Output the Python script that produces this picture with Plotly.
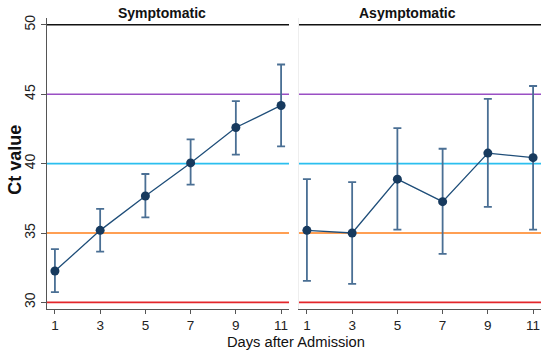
import plotly.graph_objects as go
from plotly.subplots import make_subplots

days = [1, 3, 5, 7, 9, 11]
sym_mean = [32.26, 35.19, 37.67, 40.05, 42.60, 44.19]
sym_upper = [33.84, 36.74, 39.25, 41.74, 44.50, 47.14]
sym_lower = [30.74, 33.66, 36.12, 38.48, 40.64, 41.24]
asym_mean = [35.19, 35.00, 38.88, 37.26, 40.76, 40.43]
asym_upper = [38.88, 38.67, 42.55, 41.07, 44.66, 45.59]
asym_lower = [31.55, 31.33, 35.24, 33.50, 36.88, 35.24]
thresholds = [30, 35, 40, 45, 50]
threshold_colors = ["#e3262b", "#ff7f1a", "#2bbfef", "#9a4fc4", "#111111"]
panel_titles = ["Symptomatic", "Asymptomatic"]
y_ticks = [30, 35, 40, 45, 50]

fig = make_subplots(rows=1, cols=2, shared_yaxes=True)

W, H = 550, 352
dom1 = [47 / W, 289 / W]
dom2 = [299 / W, 541 / W]
ydom = [1 - 308.7 / H, 1 - 15 / H]

for col, (m, up, lo) in enumerate([(sym_mean, sym_upper, sym_lower),
                                    (asym_mean, asym_upper, asym_lower)], start=1):
    for t, c in zip(thresholds, threshold_colors):
        fig.add_shape(type="line", xref=f"x{'' if col == 1 else col} domain",
                      yref=f"y{'' if col == 1 else col}", x0=0, x1=1, y0=t, y1=t,
                      line=dict(color=c, width=1.6), layer="below")
    fig.add_trace(go.Scatter(
        x=days, y=m, mode="lines+markers",
        line=dict(color="#1f4e79", width=1.3),
        marker=dict(color="#173a5e", size=9),
        error_y=dict(type="data", symmetric=False,
                     array=[u - v for u, v in zip(up, m)],
                     arrayminus=[v - l for v, l in zip(m, lo)],
                     color="#4a6f94", thickness=1.8, width=4),
        showlegend=False), row=1, col=col)

axis_common = dict(showgrid=False, zeroline=False, range=[0.65, 11.35],
                   tickvals=days, ticks="outside", ticklen=4, tickcolor="#555",
                   showline=True, linecolor="#555", linewidth=1.3,
                   tickfont=dict(family="Arial, Liberation Sans", size=13.5, color="#222"))
fig.update_xaxes(**axis_common)
fig.update_layout(
    xaxis=dict(domain=dom1),
    xaxis2=dict(domain=dom2),
    yaxis=dict(domain=ydom, range=[29.52, 50.5], tickvals=y_ticks, tickangle=-90,
               ticks="outside", ticklen=5, tickcolor="#555",
               showline=True, linecolor="#555", linewidth=1.3,
               showgrid=False, zeroline=False,
               tickfont=dict(family="Arial, Liberation Sans", size=14, color="#222")),
    yaxis2=dict(domain=ydom, range=[29.52, 50.5], showticklabels=False,
                showline=True, linecolor="#eeeeee", linewidth=1,
                showgrid=False, zeroline=False, ticks=""),
    width=W, height=H,
    margin=dict(l=0, r=0, t=0, b=0),
    plot_bgcolor="white", paper_bgcolor="white",
)

title_x = [162, 407.5]
for title, tx in zip(panel_titles, title_x):
    fig.add_annotation(text=f"<b>{title}</b>", xref="paper", yref="paper",
                       x=tx / W, y=1 - 10 / H, showarrow=False,
                       yanchor="middle", xanchor="center",
                       font=dict(family="Arial, Liberation Sans", size=14, color="#111"))

fig.add_annotation(text="<b>Ct value</b>", xref="paper", yref="paper",
                   x=15 / W, y=1 - 158 / H, textangle=-90, showarrow=False,
                   xanchor="center", yanchor="middle",
                   font=dict(family="Arial, Liberation Sans", size=18, color="#111"))
fig.add_annotation(text="Days after Admission", xref="paper", yref="paper",
                   x=296 / W, y=1 - 341.5 / H, showarrow=False,
                   xanchor="center", yanchor="middle",
                   font=dict(family="Arial, Liberation Sans", size=14.7, color="#111"))

fig.write_html("out.html", config={"displayModeBar": False},
               post_script="document.body.style.margin='0';document.body.style.padding='0';")
